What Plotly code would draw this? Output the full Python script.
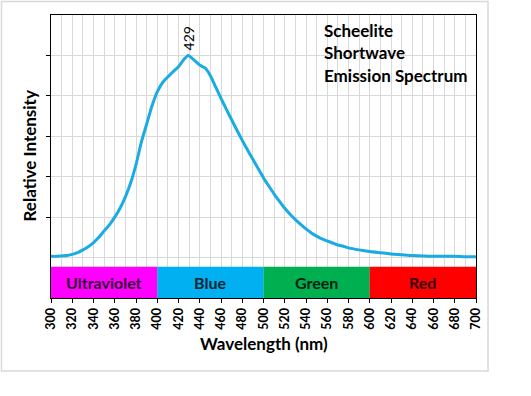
import plotly.graph_objects as go

# Emission spectrum (wavelength in nm, relative intensity)
wavelength = [300, 305, 310, 315, 320, 325, 330, 335, 340, 345, 350, 355, 360, 365, 370, 375,
              380, 385, 390, 395, 400, 405, 410, 415, 420, 425, 429, 435, 440, 445, 450, 455,
              460, 465, 470, 475, 480, 485, 490, 495, 500, 505, 510, 515, 520, 525, 530, 535,
              540, 545, 550, 555, 560, 565, 570, 575, 580, 590, 600, 610, 620, 630, 640, 650,
              660, 670, 680, 690, 700]
intensity = [0.03, 0.03, 0.04, 0.05, 0.08, 0.12, 0.19, 0.27, 0.37, 0.50, 0.66, 0.81, 1.00, 1.22, 1.50, 1.85,
             2.30, 2.85, 3.30, 3.75, 4.10, 4.33, 4.47, 4.60, 4.72, 4.90, 5.00, 4.88, 4.76, 4.69, 4.50, 4.22,
             3.94, 3.67, 3.41, 3.15, 2.90, 2.66, 2.43, 2.20, 1.97, 1.77, 1.57, 1.39, 1.22, 1.07, 0.94, 0.82,
             0.71, 0.61, 0.53, 0.46, 0.41, 0.36, 0.31, 0.28, 0.24, 0.19, 0.15, 0.12, 0.09, 0.07, 0.05, 0.04,
             0.03, 0.03, 0.03, 0.02, 0.02]

peak_wavelength = 429
peak_intensity = 5.0

# Colour bands
band_names = ["Ultraviolet", "Blue", "Green", "Red"]
band_start = [300, 400, 500, 600]
band_end = [400, 500, 600, 700]
band_colors = ["#FF00FF", "#00B0F0", "#00B050", "#FF0000"]
band_text_colors = ["#330033", "#00232F", "#002310", "#330000"]

title_lines = ["Scheelite", "Shortwave", "Emission Spectrum"]

FONT = "Lato"
W, H = 531, 396
ML, MR, MT, MB = 51, 55, 15, 98
PW, PH = W - ML - MR, H - MT - MB

def px_to_paper_x(px):
    return (px - ML) / PW

def px_to_paper_y(py):
    return (H - MB - py) / PH

fig = go.Figure()
fig.add_trace(go.Scatter(
    x=wavelength, y=intensity, mode="lines",
    line=dict(color="#1AABE3", width=3, shape="spline", smoothing=0.5),
    hoverinfo="skip", showlegend=False,
))

shapes = []
annotations = []
for name, x0, x1, c, tc in zip(band_names, band_start, band_end, band_colors, band_text_colors):
    shapes.append(dict(type="rect", xref="x", yref="y", x0=x0, x1=x1, y0=-1, y1=-0.23,
                       fillcolor=c, line=dict(width=0), layer="above"))
    annotations.append(dict(x=(x0 + x1) / 2, y=-0.615, xref="x", yref="y", text=f"<b>{name}</b>",
                            showarrow=False, font=dict(family=FONT, size=16, color=tc)))

# chart-area frame
shapes.append(dict(type="rect", xref="paper", yref="paper",
                   x0=px_to_paper_x(1.5), x1=px_to_paper_x(488),
                   y0=px_to_paper_y(371), y1=px_to_paper_y(1.5),
                   line=dict(color="#D9D9D9", width=1.5), fillcolor="rgba(0,0,0,0)", layer="below"))

annotations.append(dict(x=peak_wavelength, y=peak_intensity, xref="x", yref="y", text=str(peak_wavelength),
                        textangle=-90, showarrow=False, xanchor="center", yanchor="bottom", yshift=3,
                        font=dict(family=FONT, size=14, color="#000000")))

for line, py in zip(title_lines, [30, 52.7, 75.7]):
    annotations.append(dict(x=px_to_paper_x(322), y=px_to_paper_y(py), xref="paper", yref="paper",
                            text=f"<b>{line}</b>", showarrow=False, xanchor="left", yanchor="middle",
                            align="left", font=dict(family=FONT, size=17, color="#000000")))

annotations.append(dict(x=px_to_paper_x(29), y=0.5, xref="paper", yref="paper",
                        text="<b>Relative Intensity</b>", textangle=-90, showarrow=False,
                        xanchor="center", yanchor="middle", font=dict(family=FONT, size=17, color="#000000")))
annotations.append(dict(x=0.5, y=px_to_paper_y(343), xref="paper", yref="paper",
                        text="<b>Wavelength (nm)</b>", showarrow=False,
                        xanchor="center", yanchor="middle", font=dict(family=FONT, size=17, color="#000000")))

fig.update_layout(
    width=W, height=H,
    margin=dict(l=ML, r=MR, t=MT, b=MB, pad=0),
    paper_bgcolor="white", plot_bgcolor="white",
    shapes=shapes, annotations=annotations,
    showlegend=False,
    xaxis=dict(range=[300, 700], tickmode="linear", tick0=300, dtick=20,
               showgrid=True, gridcolor="#D9D9D9", gridwidth=1,
               minor=dict(dtick=10, showgrid=True, gridcolor="#D9D9D9", gridwidth=1, ticks=""),
               ticks="outside", ticklen=4, tickcolor="#000000", tickangle=-90,
               tickfont=dict(family=FONT, size=12.5, color="#000000", weight="bold"),
               showline=True, linecolor="#000000", linewidth=1, mirror=True, zeroline=False,
               fixedrange=True),
    yaxis=dict(range=[-1, 6], tickvals=[0, 6], showticklabels=False, ticks="",
               showgrid=True, gridcolor="#D9D9D9", gridwidth=1,
               minor=dict(tickvals=[1, 2, 3, 4, 5], ticks="outside", ticklen=4, tickcolor="#000000",
                          showgrid=True, gridcolor="#D9D9D9", gridwidth=1),
               showline=True, linecolor="#000000", linewidth=1, mirror=True, zeroline=False,
               fixedrange=True),
)

fig.write_html("out.html", config={"displayModeBar": False},
               post_script="document.body.style.margin='0';document.body.style.overflow='hidden';")
